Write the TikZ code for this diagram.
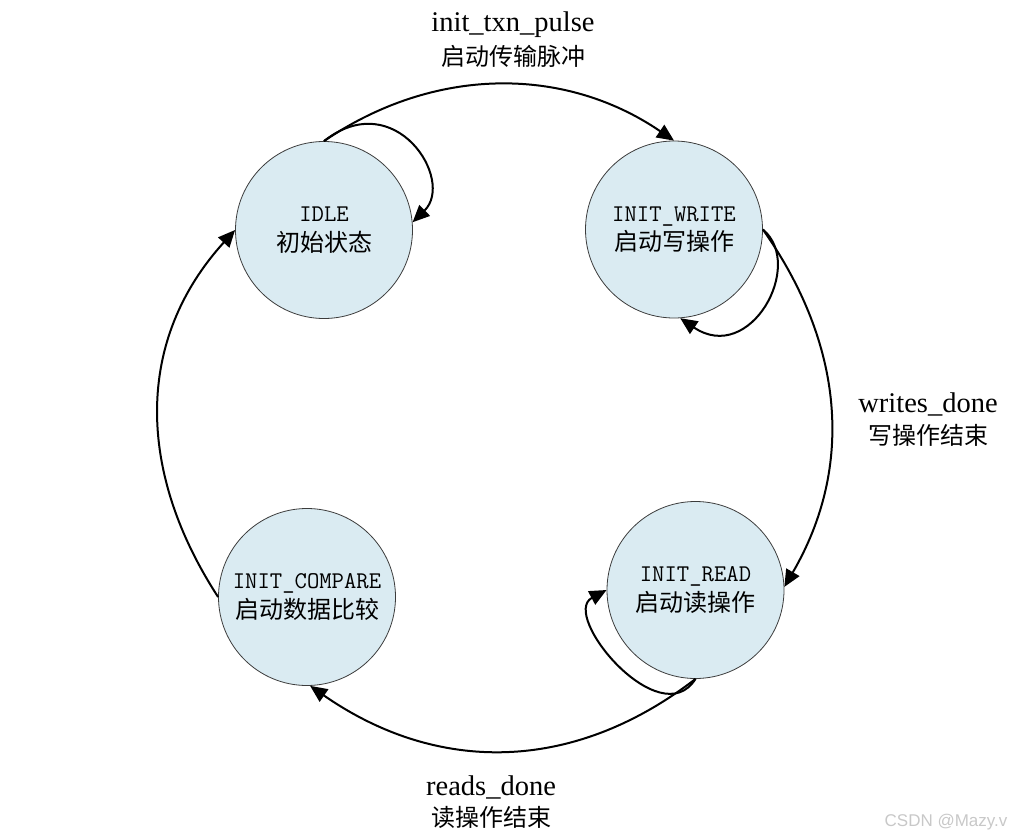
\documentclass[tikz,border=0pt]{standalone}
\usepackage{fontspec}
\setmainfont{Liberation Serif}
\newfontfamily\cjk{Noto Sans CJK SC}
\newfontfamily\monofnt{Latin Modern Mono}
\newfontfamily\wmfont{Liberation Sans}
\usetikzlibrary{arrows.meta}
\definecolor{statefill}{RGB}{218,235,242}
\definecolor{stateline}{RGB}{60,60,60}
\definecolor{wmgray}{RGB}{200,200,200}
\begin{document}
\begin{tikzpicture}[x=1pt,y=-1pt,
  state/.style={circle, draw=stateline, line width=0.8pt, fill=statefill,
    minimum size=177pt, inner sep=0pt, align=center,
    font=\fontsize{24}{29.5}\selectfont},
  trans/.style={line width=2pt, -{Triangle[length=17pt,width=15pt]}},
  lat/.style={font=\fontsize{28.5}{30}\selectfont, anchor=base, inner sep=0pt},
  cn/.style={font=\fontsize{24}{28}\selectfont\cjk, anchor=base, inner sep=0pt},
  wm/.style={font=\fontsize{17}{20}\selectfont\wmfont, text=wmgray, inner sep=0pt},
]
\useasboundingbox (0,0) rectangle (1017,840);

% states
\node[state] (idle)    at (324,230)   {{\monofnt IDLE}\\{\cjk 初始状态}};
\node[state] (write)   at (674,229.5) {{\monofnt INIT\_WRITE}\\{\cjk 启动写操作}};
\node[state] (read)    at (695.5,590) {{\monofnt INIT\_READ}\\{\cjk 启动读操作}};
\node[state] (compare) at (307,597)   {{\monofnt INIT\_COMPARE}\\{\cjk 启动数据比较}};

% transitions
\draw[trans] (idle.north) .. controls +(110,-75) and +(-110,-75) .. (write.north);
\draw[trans] (idle.north) .. controls +(71,-56) and +(43,-42) .. (idle.5);
\draw[trans] (write.east) .. controls +(80.6,114.4) and +(70.4,-121) .. (read.2);
\draw[trans] (write.east) .. controls +(42.5,35.5) and +(69.8,47.2) .. (write.-86);
\draw[trans] (read.south) .. controls +(-122.6,94.5) and +(127.1,88.4) .. (compare.-88);
\draw[trans] (read.south) .. controls +(-35.5,56.5) and +(-47,25) .. (read.west);
\draw[trans] (compare.west) .. controls +(-81.8,-125.9) and +(-100,110) .. (idle.west);

% labels
\node[lat] (lblA)   at (513,32)    {init\_txn\_pulse};
\node[cn]  (lblAcn) at (513,66)    {启动传输脉冲};
\node[lat] (lblB)   at (928,412)   {writes\_done};
\node[cn]  (lblBcn) at (928,444)   {写操作结束};
\node[lat] (lblC)   at (491,795)   {reads\_done};
\node[cn]  (lblCcn) at (491,826.5) {读操作结束};

% watermark
\node[wm] (wmark) at (946,822) {CSDN @Mazy.v};
\end{tikzpicture}
\end{document}
